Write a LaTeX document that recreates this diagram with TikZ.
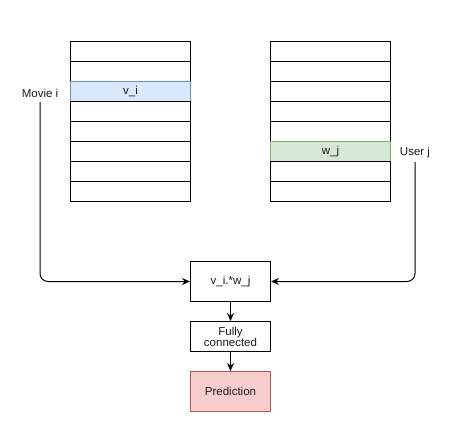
\documentclass[tikz,border=0pt]{standalone}
\usepackage{fontspec}
\setmainfont{Liberation Sans}
\usetikzlibrary{arrows.meta}
\definecolor{bluefill}{HTML}{DAE8FC}
\definecolor{bluedraw}{HTML}{6C8EBF}
\definecolor{greenfill}{HTML}{D5E8D4}
\definecolor{greendraw}{HTML}{82B366}
\definecolor{redfill}{HTML}{F8CECC}
\definecolor{reddraw}{HTML}{B85450}
\definecolor{txt}{HTML}{1A1A1A}
\begin{document}
\begin{tikzpicture}[x=1pt,y=-1pt,
  font=\fontsize{11.5}{13}\selectfont,
  cell/.style={draw=black,line width=1pt,minimum width=120pt,minimum height=20pt,inner sep=0pt,anchor=north west,text=txt},
  box/.style={draw=black,line width=1pt,minimum width=80pt,inner sep=0pt,align=center,anchor=north west,text=txt},
  lbl/.style={inner sep=0pt,text=txt},
  conn/.style={line width=1pt,-{Stealth[length=8pt,width=7pt]}}]
\useasboundingbox (0,0) rectangle (467,429);
% left table
\foreach \i in {1,...,8} {
  \pgfmathsetmacro{\yy}{41+20*(\i-1)}
  \ifnum\i=3
    \node[cell,fill=bluefill,draw=bluedraw] (l\i) at (70,\yy) {v\_i};
  \else
    \node[cell] (l\i) at (70,\yy) {};
  \fi
}
% right table
\foreach \i in {1,...,8} {
  \pgfmathsetmacro{\yy}{41+20*(\i-1)}
  \ifnum\i=6
    \node[cell,fill=greenfill,draw=greendraw] (r\i) at (270,\yy) {w\_j};
  \else
    \node[cell] (r\i) at (270,\yy) {};
  \fi
}
\node[lbl,anchor=south] (movie) at (40,98) {Movie i};
\node[lbl,anchor=south] (user) at (415,158) {User j};
\node[box,minimum height=40pt] (prod) at (190,261) {v\_i.*w\_j};
\node[box,minimum height=30pt] (fc) at (190,321) {Fully\\[-2pt]connected};
\node[box,minimum height=40pt,fill=redfill,draw=reddraw] (pred) at (190,371) {Prediction};
\draw[conn,rounded corners=8pt] ([yshift=-4pt]movie.south) |- (prod.west);
\draw[conn,rounded corners=8pt] ([yshift=-4pt]user.south) |- (prod.east);
\draw[conn] (prod) -- (fc);
\draw[conn] (fc) -- (pred);
\end{tikzpicture}
\end{document}
